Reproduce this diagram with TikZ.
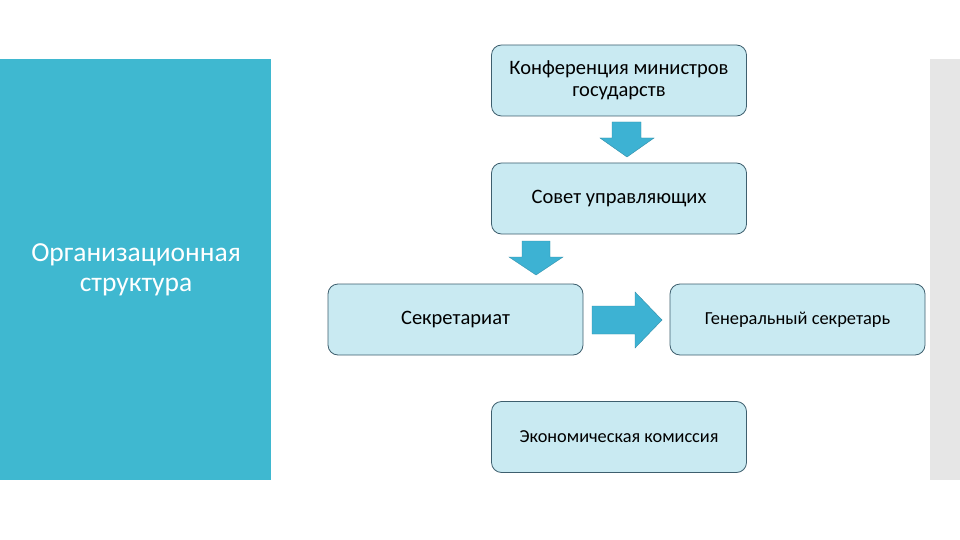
\documentclass[tikz,border=0pt]{standalone}
\usepackage{fontspec}
\setmainfont{Carlito}
\usetikzlibrary{positioning}
\definecolor{teal}{HTML}{3FB8D0}
\definecolor{boxfill}{HTML}{C9EAF2}
\definecolor{boxline}{HTML}{3E5F6E}
\definecolor{arrowfill}{HTML}{3DB2D3}
\definecolor{stripgray}{HTML}{E6E6E6}
\tikzset{
  orgbox/.style={draw=boxline, line width=0.8pt, fill=boxfill, rounded corners=10pt,
    minimum width=255pt, minimum height=71pt, inner sep=0pt, align=center, font=\fontsize{20.5}{22}\selectfont},
  blockarrow/.style={fill=arrowfill, draw=arrowfill!80!black, line width=0.4pt},
}
\begin{document}
\begin{tikzpicture}[x=1pt,y=-1pt]
\useasboundingbox (0,0) rectangle (960,540);
\fill[white] (0,0) rectangle (960,540);
\fill[teal] (0,59) rectangle (271,480);
\fill[stripgray] (930,59) rectangle (960,480);
\node[text=white, align=center, font=\fontsize{27.5}{30}\selectfont] (title) at (136,270) {Организационная\\структура};
\node[orgbox] (konf) at (619,80.5) {Конференция министров\\государств};
\node[orgbox] (sovet) at (619,198.5) {Совет управляющих};
\node[orgbox] (sekr) at (455.5,319.5) {Секретариат};
\node[orgbox, font=\fontsize{18.4}{20}\selectfont] (gen) at (797.5,319.5) {Генеральный секретарь};
\node[orgbox, font=\fontsize{18.3}{20}\selectfont] (econ) at (619,437) {Экономическая комиссия};
% down arrow 1
\draw[blockarrow] (612,122) -- (641,122) -- (641,138) -- (654,138) -- (627,157) -- (600,138) -- (612,138) -- cycle;
% down arrow 2
\draw[blockarrow] (522,241) -- (550,241) -- (550,257) -- (563,257) -- (536,275) -- (509,257) -- (522,257) -- cycle;
% right arrow
\draw[blockarrow] (592,306) -- (635,306) -- (635,292) -- (662,320) -- (635,348) -- (635,334) -- (592,334) -- cycle;
\end{tikzpicture}
\end{document}
